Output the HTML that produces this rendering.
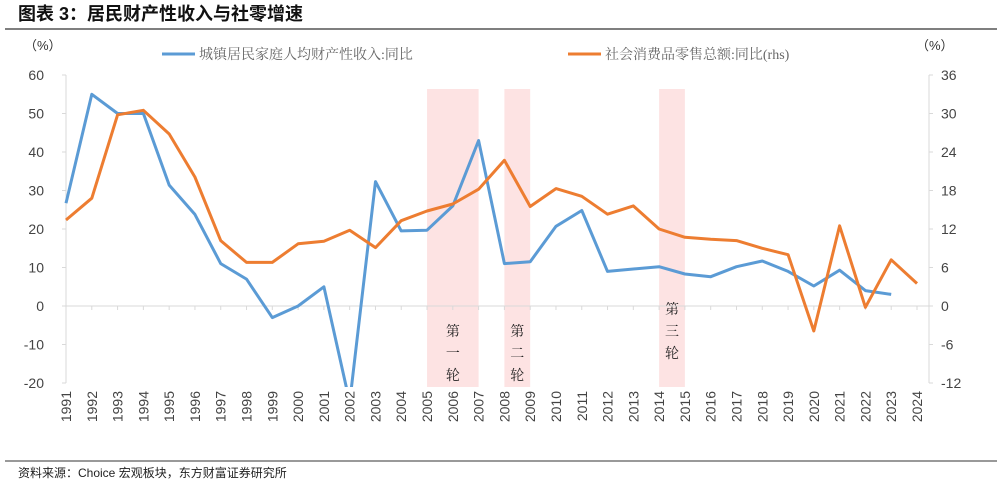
<!DOCTYPE html>
<html><head><meta charset="utf-8">
<style>
body{margin:0;background:#fff;width:997px;height:487px;overflow:hidden;font-family:"Liberation Sans","Noto Sans CJK SC",sans-serif;}
svg text{font-family:"Liberation Sans","Noto Sans CJK SC",sans-serif;}
svg text.serif{font-family:"Liberation Serif","Noto Serif CJK SC",serif;}
</style></head>
<body>
<svg width="997" height="487" id="chart">
<text x="18" y="20" font-size="18" font-weight="bold" fill="#111">图表 3：居民财产性收入与社零增速</text>
<line x1="5" y1="29" x2="997" y2="29" stroke="#333" stroke-width="1.2"/>
<text x="24" y="50" font-size="13" fill="#333">（%）</text>
<text x="916" y="50" font-size="13" fill="#333">（%）</text>
<g>
<line x1="162" y1="54" x2="195" y2="54" stroke="#5b9bd5" stroke-width="3"/>
<text class="serif" x="199" y="59" font-size="14" fill="#666">城镇居民家庭人均财产性收入:同比</text>
<line x1="568" y1="54" x2="601" y2="54" stroke="#ed7d31" stroke-width="3"/>
<text class="serif" x="605" y="59" font-size="14" fill="#666">社会消费品零售总额:同比(rhs)</text>
</g>
<g id="bands"></g>
<g id="axes"></g>
<g id="lines"></g>
<line x1="5" y1="461" x2="997" y2="461" stroke="#333" stroke-width="1"/>
<text x="18" y="477" font-size="12" fill="#222">资料来源：Choice 宏观板块，东方财富证券研究所</text>
</svg>
<script>
const years=[1991,1992,1993,1994,1995,1996,1997,1998,1999,2000,2001,2002,2003,2004,2005,2006,2007,2008,2009,2010,2011,2012,2013,2014,2015,2016,2017,2018,2019,2020,2021,2022,2023,2024];
const incomeValues=[26.7,55,50,50,31.4,23.8,11,7,-3,0,5,-25,32.3,19.5,19.7,26,43,11,11.5,20.7,24.8,9,9.6,10.2,8.3,7.6,10.2,11.7,9,5.2,9.3,4,3,null];
const retailValues=[13.4,16.8,29.8,30.5,26.8,20.1,10.2,6.8,6.8,9.7,10.1,11.8,9.1,13.3,14.8,15.9,18.2,22.7,15.5,18.3,17.1,14.3,15.6,12.0,10.7,10.4,10.2,9.0,8.0,-3.9,12.5,-0.2,7.2,3.5];
const leftTicks=[60,50,40,30,20,10,0,-10,-20];
const rightTicks=[36,30,24,18,12,6,0,-6,-12];
const bands=[{from:2005,to:2007,label:"第一轮",pos:"low"},{from:2008,to:2009,label:"第二轮",pos:"low"},{from:2014,to:2015,label:"第三轮",pos:"high"}];

const NS="http://www.w3.org/2000/svg";
const svg=document.getElementById('chart');
const X0=66,X1=917,YT=75,YB=383;
const x=i=>X0+(X1-X0)*i/(years.length-1);
const xYear=yr=>x(years.indexOf(yr));
const yL=v=>YB-(v+20)/80*(YB-YT);
const yR=v=>YB-(v+12)/48*(YB-YT);
function el(t,a,p){const e=document.createElementNS(NS,t);for(const k in a)e.setAttribute(k,a[k]);p.appendChild(e);return e;}

const gB=document.getElementById('bands');
bands.forEach(b=>{
  const r=el('rect',{x:xYear(b.from),y:89,width:xYear(b.to)-xYear(b.from),height:298,fill:'#fde3e3'},gB);
  
  
  const cx=(xYear(b.from)+xYear(b.to))/2;
  const y0=b.pos==='low'?336:314;
  [...b.label].forEach((c,k)=>{
    const t=el('text',{x:cx,y:y0+k*22,'font-size':14,'text-anchor':'middle',fill:'#222','class':'serif'},gB);
    t.textContent=c;
    
    
  });
});

const gA=document.getElementById('axes');
el('line',{x1:X0,y1:YT,x2:X0,y2:YB,stroke:'#d9d9d9','stroke-width':1},gA);
el('line',{x1:929,y1:YT,x2:929,y2:YB,stroke:'#d9d9d9','stroke-width':1},gA);
el('line',{x1:X0,y1:yL(0),x2:929,y2:yL(0),stroke:'#d9d9d9','stroke-width':1},gA);
leftTicks.forEach(v=>{
  el('line',{x1:X0-4,y1:yL(v),x2:X0,y2:yL(v),stroke:'#d9d9d9'},gA);
  const t=el('text',{x:44,y:yL(v)+5,'font-size':14,'text-anchor':'end',fill:'#444'},gA);
  t.textContent=v;
  
  
});
rightTicks.forEach(v=>{
  el('line',{x1:929,y1:yR(v),x2:933,y2:yR(v),stroke:'#d9d9d9'},gA);
  const t=el('text',{x:941,y:yR(v)+5,'font-size':14,fill:'#444'},gA);
  t.textContent=v;
  
  
});
years.forEach((yr,i)=>{
  el('line',{x1:x(i),y1:yL(0),x2:x(i),y2:yL(0)+4,stroke:'#d9d9d9'},gA);
  const t=el('text',{x:0,y:0,'font-size':14,'text-anchor':'end',fill:'#444',transform:`translate(${x(i)+5},391) rotate(-90)`},gA);
  t.textContent=yr;
  
  
});

const gL=document.getElementById('lines');
const defs=el('defs',{},gL);
const cp=el('clipPath',{id:'plotclip'},defs);
el('rect',{x:0,y:YT-10,width:997,height:YB-YT+14},cp);
function path(vals,yf){let d='';let started=false;vals.forEach((v,i)=>{if(v===null)return;d+=(started?'L':'M')+x(i).toFixed(1)+','+yf(v).toFixed(1);started=true;});return d;}
const pI=el('path',{d:path(incomeValues,yL),fill:'none',stroke:'#5b9bd5','stroke-width':3,'stroke-linejoin':'round','clip-path':'url(#plotclip)'},gL);


const pR=el('path',{d:path(retailValues,yR),fill:'none',stroke:'#ed7d31','stroke-width':3,'stroke-linejoin':'round'},gL);


</script>
</body></html>
